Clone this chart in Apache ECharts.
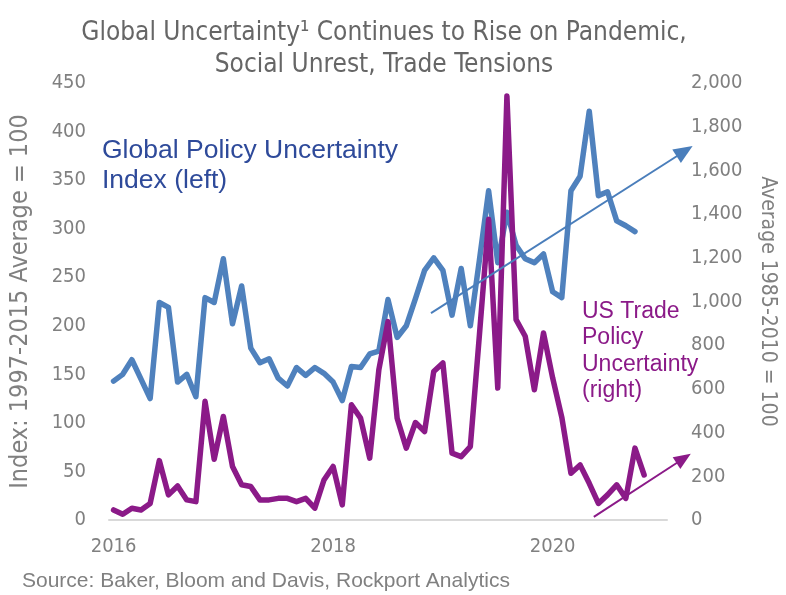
<!DOCTYPE html>
<html>
<head>
<meta charset="utf-8">
<script src="https://cdn.jsdelivr.net/npm/echarts@6/dist/echarts.min.js"></script>
<style>
  html, body { margin: 0; padding: 0; background: #fff; }
  #chart { width: 786px; height: 595px; }
</style>
</head>
<body>
<div id="chart"></div>
<script>
// monthly, Jan 2016 .. Jan 2021 (axis runs one month past the data)
var months = [];
for (var y = 2016; y <= 2021; y++) {
  for (var m = 1; m <= 12; m++) {
    if (y === 2021 && m > 1) break;
    months.push(y + '-' + (m < 10 ? '0' + m : m));
  }
}

// Global Economic Policy Uncertainty index (left axis), Jan 2016 - Oct 2020
var globalEpu = [
  143, 150, 165, 145, 125, 224, 219, 142, 150, 127,
  229, 224, 269, 202, 241, 177, 162, 166, 146, 138,
  157, 149, 157, 151, 142, 123, 158, 157, 171, 174,
  227, 188, 200, 228, 257, 270, 257, 211, 259, 200,
  268, 339, 265, 317, 283, 269, 265, 274, 235, 229,
  339, 354, 421, 334, 338, 308, 303, 297
];

// US Trade Policy Uncertainty (right axis), Jan 2016 - Nov 2020
var usTpu = [
  46, 26, 54, 46, 76, 272, 115, 156, 92, 84,
  543, 278, 474, 245, 161, 153, 92, 92, 99, 99,
  84, 99, 54, 183, 245, 69, 527, 466, 283, 688,
  908, 466, 329, 446, 405, 680, 719, 306, 290, 336,
  850, 1376, 604, 1940, 917, 841, 596, 856, 650, 470,
  214, 252, 168, 76, 115, 161, 99, 329, 206
];

var yearTicks = ['2016', '2018', '2020'];

// trend arrows, [month index, value]
var epuTrend = [[34.7, 213], [63.3, 385]];
var tpuTrend = [[52.5, 14], [63.1, 303]];

var narrow = "'DejaVu Sans Condensed', 'Liberation Sans Narrow', sans-serif";
var grey = '#808080';
var blue = '#4f81bd';
var purple = '#8b1a88';

var chart = echarts.init(document.getElementById('chart'));

chart.setOption({
  animation: false,
  title: {
    text: 'Global Uncertainty\u00b9 Continues to Rise on Pandemic,\nSocial Unrest, Trade Tensions',
    left: 379,
    top: 12,
    textAlign: 'center',
    textStyle: {
      fontFamily: narrow,
      fontWeight: 'normal',
      fontSize: 26,
      lineHeight: 32,
      color: '#666666'
    }
  },
  grid: { left: 108, right: 117, top: 83, bottom: 75 },
  xAxis: {
    type: 'category',
    data: months,
    boundaryGap: true,
    axisLine: { lineStyle: { color: '#d9d9d9', width: 2 } },
    axisTick: { show: false },
    axisLabel: {
      interval: function (i) { return i % 24 === 0; },
      formatter: function (v) {
        var y = v.slice(0, 4);
        return yearTicks.indexOf(y) >= 0 ? y : '';
      },
      margin: 17,
      fontFamily: narrow,
      fontSize: 20,
      color: grey
    }
  },
  yAxis: [
    {
      type: 'value',
      min: 0, max: 450, interval: 50,
      name: 'Index: 1997-2015 Average = 100',
      nameLocation: 'middle',
      nameGap: 76,
      nameTextStyle: { fontFamily: narrow, fontSize: 25, color: grey },
      axisLine: { show: false },
      axisTick: { show: false },
      splitLine: { show: false },
      axisLabel: { fontFamily: narrow, fontSize: 20, color: grey, margin: 23 }
    },
    {
      type: 'value',
      min: 0, max: 2000, interval: 200,
      name: 'Average 1985-2010 = 100',
      nameLocation: 'middle',
      nameRotate: -90,
      nameGap: 90,
      nameTextStyle: { fontFamily: narrow, fontSize: 21, color: grey },
      axisLine: { show: false },
      axisTick: { show: false },
      splitLine: { show: false },
      axisLabel: {
        fontFamily: narrow, fontSize: 20, color: grey, margin: 24,
        formatter: function (v) { return v.toString().replace(/\B(?=(\d{3})+(?!\d))/g, ','); }
      }
    }
  ],
  series: [
    {
      name: 'Global Policy Uncertainty Index (left)',
      type: 'line',
      yAxisIndex: 0,
      data: globalEpu,
      showSymbol: false,
      lineStyle: { color: blue, width: 5.5, join: 'round', cap: 'round' },
      itemStyle: { color: blue },
      z: 2
    },
    {
      name: 'US Trade Policy Uncertainty (right)',
      type: 'line',
      yAxisIndex: 1,
      data: usTpu,
      showSymbol: false,
      lineStyle: { color: purple, width: 5.5, join: 'round', cap: 'round' },
      itemStyle: { color: purple },
      z: 3
    }
  ],
  graphic: [
    {
      type: 'text', left: 102, top: 136, z: 10,
      style: {
        text: 'Global Policy Uncertainty\nIndex (left)',
        font: '26.5px "Liberation Sans", Arial, sans-serif',
        lineHeight: 30,
        fill: '#2e4a9a'
      }
    },
    {
      type: 'text', left: 582, top: 298, z: 10,
      style: {
        text: 'US Trade\nPolicy\nUncertainty\n(right)',
        font: '23px "Liberation Sans", Arial, sans-serif',
        lineHeight: 26.5,
        fill: purple
      }
    },
    {
      type: 'text', left: 22, top: 571, z: 10,
      style: {
        text: 'Source: Baker, Bloom and Davis, Rockport Analytics',
        font: '21px "Liberation Sans", Arial, sans-serif',
        fill: grey
      }
    }
  ]
});

// arrows: place them from data coordinates (index may run past the last month)
function toPx(pt, yIdx) {
  var a = chart.convertToPixel({ xAxisIndex: 0, yAxisIndex: yIdx }, [0, pt[1]]);
  var b = chart.convertToPixel({ xAxisIndex: 0, yAxisIndex: yIdx }, [60, pt[1]]);
  return [a[0] + (b[0] - a[0]) * pt[0] / 60, a[1]];
}

function arrow(trend, yIdx, color, headLen, headW) {
  var p0 = toPx(trend[0], yIdx);
  var p1 = toPx(trend[1], yIdx);
  var dx = p1[0] - p0[0], dy = p1[1] - p0[1];
  var len = Math.sqrt(dx * dx + dy * dy);
  var ux = dx / len, uy = dy / len;
  var bx = p1[0] - ux * headLen, by = p1[1] - uy * headLen;
  return [
    {
      type: 'line', z: 20,
      shape: { x1: p0[0], y1: p0[1], x2: bx + ux * 2, y2: by + uy * 2 },
      style: { stroke: color, lineWidth: 2 }
    },
    {
      type: 'polygon', z: 20,
      shape: {
        points: [
          p1,
          [bx - uy * headW / 2, by + ux * headW / 2],
          [bx + uy * headW / 2, by - ux * headW / 2]
        ]
      },
      style: { fill: color }
    }
  ];
}

var arrows = arrow(epuTrend, 0, '#4a7ebb', 19, 16).concat(arrow(tpuTrend, 1, purple, 17, 14));
var g = chart.getOption().graphic[0].elements.slice();
chart.setOption({ graphic: g.concat(arrows) });
</script>
</body>
</html>
